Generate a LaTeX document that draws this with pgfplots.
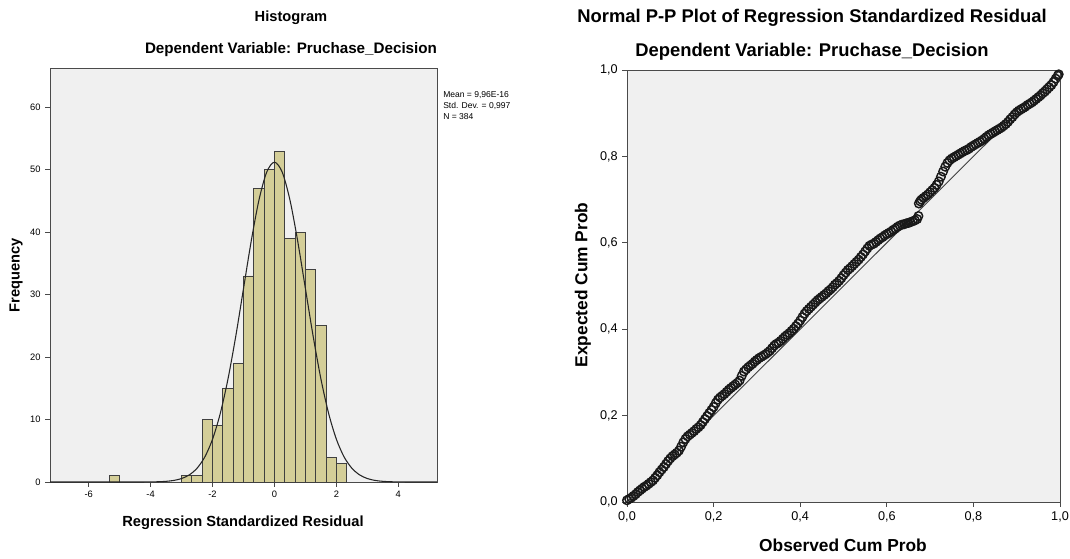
\documentclass[border=0pt]{standalone}
\usepackage{fontspec}
\setmainfont{Liberation Sans}
\usepackage{pgfplots}
\pgfplotsset{compat=1.18}
\definecolor{panel}{HTML}{F0F0F0}
\definecolor{barfill}{HTML}{D4CE98}
\definecolor{frame}{HTML}{4A4A4A}

\begin{document}
\begin{tikzpicture}
\path[use as bounding box] (0,0) rectangle (802.5pt,418.5pt);

% ---- histogram of residuals
\begin{axis}[
  at={(37.5pt,57pt)}, anchor=south west,
  width=290.25pt, height=310.5pt, scale only axis,
  xmin=-7.25, xmax=5.25, ymin=0, ymax=66.3,
  xtick={-6,-4,-2,0,2,4}, ytick={0,10,20,30,40,50,60},
  tick pos=left, tick align=outside, major tick length=3.5pt,
  tick style={frame,line width=0.6pt},
  axis line style={frame,line width=0.6pt},
  axis background/.style={fill=panel},
  tick label style={font=\fontsize{7}{8}\selectfont},
  /pgf/number format/assume math mode=true,
]
\addplot[ybar,bar width=0.3333,fill=barfill,draw=black!75,line width=0.6pt]
 coordinates {(-5.1667,1) (-2.8333,1) (-2.5,1) (-2.1667,10) (-1.8333,9)
   (-1.5,15) (-1.1667,19) (-0.8333,33) (-0.5,47) (-0.1667,50) (0.1667,53)
   (0.5,39) (0.8333,40) (1.1667,34) (1.5,25) (1.8333,4) (2.1667,3)};
\addplot[smooth,black!85,line width=0.8pt] coordinates {
 (-7.25,0) (-4.75,0) (-4.5,0.002) (-4.25,0.005) (-4,0.016) (-3.75,0.043)
 (-3.5,0.108) (-3.25,0.252) (-3,0.554) (-2.75,1.14) (-2.5,2.21) (-2.25,4.01)
 (-2,6.85) (-1.75,10.98) (-1.5,16.52) (-1.25,23.34) (-1,30.97) (-0.75,38.60)
 (-0.5,45.17) (-0.25,49.63) (0,51.22) (0.25,49.63) (0.5,45.17) (0.75,38.60)
 (1,30.97) (1.25,23.34) (1.5,16.52) (1.75,10.98) (2,6.85) (2.25,4.01)
 (2.5,2.21) (2.75,1.14) (3,0.554) (3.25,0.252) (3.5,0.108) (3.75,0.043)
 (4,0.016) (4.25,0.005) (4.5,0.002) (4.75,0) (5.25,0)};
\end{axis}

% ---- normal P-P plot
\begin{axis}[
  at={(470.25pt,42pt)}, anchor=south west,
  width=324.75pt, height=324pt, scale only axis,
  xmin=0, xmax=1, ymin=0, ymax=1,
  xtick={0,0.2,0.4,0.6,0.8,1}, ytick={0,0.2,0.4,0.6,0.8,1},
  tick pos=left, tick align=outside, major tick length=3.5pt,
  tick style={frame,line width=0.6pt},
  axis line style={frame,line width=0.6pt},
  axis background/.style={fill=panel},
  tick label style={font=\fontsize{9.5}{11}\selectfont},
  /pgf/number format/fixed, /pgf/number format/fixed zerofill,
  /pgf/number format/precision=1, /pgf/number format/use comma,
  /pgf/number format/assume math mode=true,
]
\addplot[black!75,line width=0.7pt] coordinates {(0,0) (1,1)};
\addplot[only marks,mark=o,mark size=3.2pt,mark options={black!90,line width=1.1pt}]
 coordinates {
 (0.000,0.004) (0.005,0.007) (0.010,0.010) (0.015,0.014) (0.020,0.018)
 (0.025,0.023) (0.030,0.027) (0.035,0.031) (0.040,0.035) (0.045,0.038)
 (0.050,0.042) (0.055,0.046) (0.060,0.050) (0.065,0.056) (0.070,0.062)
 (0.075,0.069) (0.080,0.075) (0.085,0.081) (0.090,0.088) (0.095,0.095)
 (0.100,0.101) (0.105,0.106) (0.110,0.110) (0.115,0.114) (0.120,0.119)
 (0.125,0.128) (0.130,0.138) (0.135,0.146) (0.140,0.152) (0.145,0.156)
 (0.150,0.160) (0.155,0.164) (0.160,0.169) (0.165,0.173) (0.170,0.178)
 (0.175,0.185) (0.180,0.192) (0.185,0.199) (0.190,0.206) (0.195,0.213)
 (0.200,0.220) (0.205,0.229) (0.210,0.237) (0.215,0.242) (0.220,0.246)
 (0.225,0.250) (0.230,0.255) (0.235,0.260) (0.240,0.264) (0.245,0.268)
 (0.250,0.272) (0.255,0.276) (0.260,0.281) (0.265,0.292) (0.270,0.302)
 (0.275,0.307) (0.280,0.312) (0.285,0.316) (0.290,0.320) (0.295,0.325)
 (0.300,0.329) (0.305,0.333) (0.310,0.336) (0.315,0.339) (0.320,0.342)
 (0.325,0.346) (0.330,0.350) (0.335,0.356) (0.340,0.362) (0.345,0.366)
 (0.350,0.369) (0.355,0.373) (0.360,0.378) (0.365,0.383) (0.370,0.387)
 (0.375,0.391) (0.380,0.396) (0.385,0.401) (0.390,0.407) (0.395,0.413)
 (0.400,0.420) (0.405,0.428) (0.410,0.436) (0.415,0.442) (0.420,0.447)
 (0.425,0.452) (0.430,0.457) (0.435,0.462) (0.440,0.467) (0.445,0.471)
 (0.450,0.475) (0.455,0.479) (0.460,0.483) (0.465,0.488) (0.470,0.492)
 (0.475,0.497) (0.480,0.503) (0.485,0.507) (0.490,0.512) (0.495,0.518)
 (0.500,0.525) (0.505,0.531) (0.510,0.537) (0.515,0.541) (0.520,0.546)
 (0.525,0.551) (0.530,0.556) (0.535,0.561) (0.540,0.567) (0.545,0.573)
 (0.550,0.580) (0.555,0.587) (0.560,0.593) (0.565,0.596) (0.570,0.598)
 (0.575,0.602) (0.580,0.606) (0.585,0.610) (0.590,0.613) (0.595,0.617)
 (0.600,0.620) (0.605,0.623) (0.610,0.626) (0.615,0.630) (0.620,0.633)
 (0.625,0.637) (0.630,0.640) (0.635,0.642) (0.640,0.643) (0.645,0.645)
 (0.650,0.646) (0.655,0.648) (0.660,0.650) (0.665,0.652) (0.670,0.655)
 (0.673,0.662) (0.674,0.691) (0.677,0.696) (0.680,0.700) (0.685,0.704)
 (0.690,0.708) (0.695,0.712) (0.700,0.717) (0.705,0.722) (0.710,0.727)
 (0.715,0.734) (0.720,0.742) (0.725,0.753) (0.730,0.765) (0.735,0.776)
 (0.740,0.785) (0.745,0.791) (0.750,0.795) (0.755,0.798) (0.760,0.801)
 (0.765,0.804) (0.770,0.807) (0.775,0.810) (0.780,0.813) (0.785,0.815)
 (0.790,0.818) (0.795,0.822) (0.800,0.825) (0.805,0.828) (0.810,0.831)
 (0.815,0.834) (0.820,0.837) (0.825,0.841) (0.830,0.845) (0.835,0.849)
 (0.840,0.852) (0.845,0.855) (0.850,0.858) (0.855,0.861) (0.860,0.864)
 (0.865,0.867) (0.870,0.871) (0.875,0.875) (0.880,0.880) (0.885,0.886)
 (0.890,0.891) (0.895,0.897) (0.900,0.902) (0.905,0.906) (0.910,0.909)
 (0.915,0.912) (0.920,0.915) (0.925,0.919) (0.930,0.922) (0.935,0.925)
 (0.940,0.929) (0.945,0.933) (0.950,0.937) (0.955,0.941) (0.960,0.946)
 (0.965,0.950) (0.970,0.955) (0.975,0.960) (0.980,0.965) (0.985,0.972)
 (0.990,0.980) (0.995,0.987) (0.997,0.990)};
\end{axis}

% ---- titles and labels
\node[font=\fontsize{11}{13}\selectfont\bfseries] at (218.25pt,405pt) {Histogram};
\node[font=\fontsize{11.4}{13}\selectfont\bfseries] at (218.25pt,381pt) {Dependent Variable: Pruchase\_Decision};
\node[anchor=north west,align=left,inner sep=0pt,font=\fontsize{6.4}{8.25}\selectfont]
  at (332.25pt,350pt) {Mean = 9,96E-16\\Std. Dev. = 0,997\\N = 384};
\node[rotate=90,font=\fontsize{11}{13}\selectfont\bfseries] at (12pt,212.25pt) {Frequency};
\node[font=\fontsize{11}{13}\selectfont\bfseries] at (182.25pt,26.25pt) {Regression Standardized Residual};

\node[font=\fontsize{13.8}{15}\selectfont\bfseries] at (609pt,405pt) {Normal P-P Plot of Regression Standardized Residual};
\node[font=\fontsize{13.8}{15}\selectfont\bfseries] at (609pt,379.5pt) {Dependent Variable: Pruchase\_Decision};
\node[rotate=90,font=\fontsize{13}{15}\selectfont\bfseries] at (437.25pt,204.75pt) {Expected Cum Prob};
\node[font=\fontsize{13}{15}\selectfont\bfseries] at (632.25pt,9.75pt) {Observed Cum Prob};
\end{tikzpicture}
\end{document}
